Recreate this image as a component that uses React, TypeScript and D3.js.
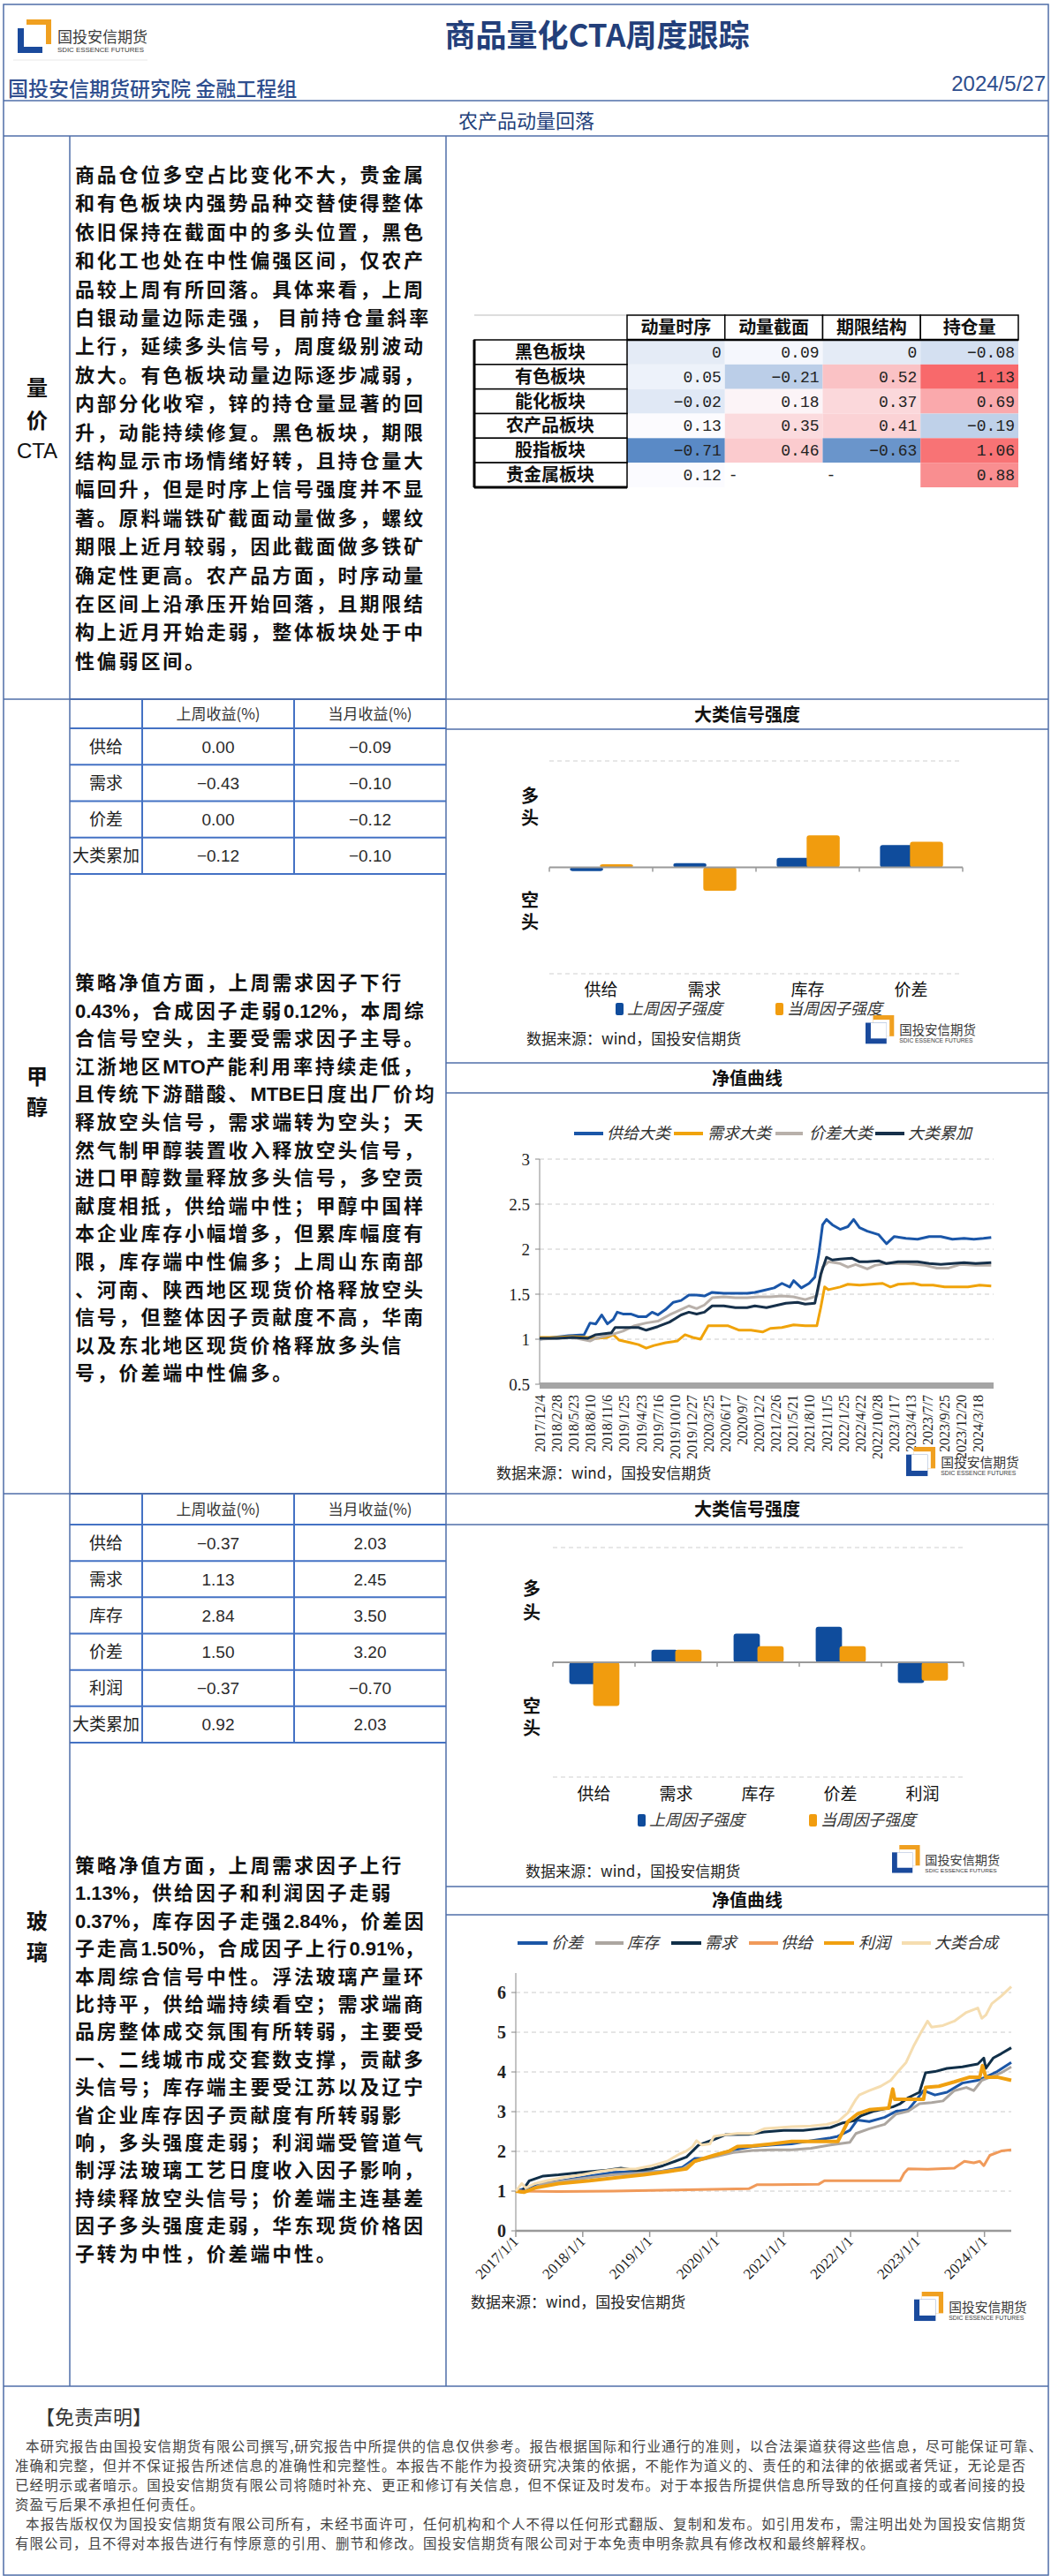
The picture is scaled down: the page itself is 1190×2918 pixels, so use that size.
import React from 'react';
import * as d3 from 'd3';

const CJK = '"Noto Sans CJK SC", "Noto Sans", sans-serif';
const SERIF = '"Liberation Serif", "DejaVu Serif", serif';
const SANS = '"Liberation Sans", Arial, sans-serif';
const MONO = '"Liberation Mono", "DejaVu Sans Mono", monospace';
const FRAME = '#4F6EA8';
const TBL = '#4472C4';

// ---------- Section 1: heat table ----------
const sectors = ['黑色板块', '有色板块', '能化板块', '农产品板块', '股指板块', '贵金属板块'];
const factorCols = ['动量时序', '动量截面', '期限结构', '持仓量'];
const momTS = [0, 0.05, -0.02, 0.13, -0.71, 0.12];
const momCS = [0.09, -0.21, 0.18, 0.35, 0.46, null];
const termStruct = [0, 0.52, 0.37, 0.41, -0.63, null];
const openInt = [-0.08, 1.13, 0.69, -0.19, 1.06, 0.88];

const ctaLines = [
  '商品仓位多空占比变化不大，贵金属',
  '和有色板块内强势品种交替使得整体',
  '依旧保持在截面中的多头位置，黑色',
  '和化工也处在中性偏强区间，仅农产',
  '品较上周有所回落。具体来看，上周',
  '白银动量边际走强， 目前持仓量斜率',
  '上行，延续多头信号，周度级别波动',
  '放大。有色板块动量边际逐步减弱，',
  '内部分化收窄，锌的持仓量显著的回',
  '升，动能持续修复。黑色板块，期限',
  '结构显示市场情绪好转，且持仓量大',
  '幅回升，但是时序上信号强度并不显',
  '著。原料端铁矿截面动量做多，螺纹',
  '期限上近月较弱，因此截面做多铁矿',
  '确定性更高。农产品方面，时序动量',
  '在区间上沿承压开始回落，且期限结',
  '构上近月开始走弱，整体板块处于中',
  '性偏弱区间。',
];

// ---------- Section 2: methanol ----------
const mFactors = ['供给', '需求', '价差', '大类累加'];
const mWeek = [0.0, -0.43, 0.0, -0.12];
const mMonth = [-0.09, -0.1, -0.12, -0.1];
const mBarCats = ['供给', '需求', '库存', '价差'];
const mPrevStrength = [-0.035, 0.04, 0.09, 0.21];
const mCurrStrength = [0.03, -0.22, 0.3, 0.24];
const mDateLabels = ['2017/12/4', '2018/2/28', '2018/5/23', '2018/8/10', '2018/11/6', '2019/1/25', '2019/4/23', '2019/7/16', '2019/10/10', '2019/12/27', '2020/3/25', '2020/6/17', '2020/9/7', '2020/12/2', '2021/2/26', '2021/5/21', '2021/8/10', '2021/11/5', '2022/1/25', '2022/4/22', '2022/10/28', '2023/1/17', '2023/4/13', '2023/7/7', '2023/9/25', '2023/12/20', '2024/3/18'];
const mYTicks = [0.5, 1, 1.5, 2, 2.5, 3];
const mSupply = [[0,1.00],[0.8,1.02],[1.72,1.04],[2.64,1.05],[2.99,1.18],[3.33,1.17],[3.68,1.27],[4.02,1.17],[4.37,1.22],[4.6,1.30],[4.94,1.28],[5.4,1.28],[5.86,1.25],[6.32,1.25],[6.67,1.30],[7.01,1.27],[7.47,1.33],[7.93,1.41],[8.39,1.43],[8.85,1.49],[9.31,1.49],[9.77,1.48],[10.23,1.52],[10.92,1.51],[11.61,1.51],[12.3,1.51],[12.76,1.52],[13.22,1.54],[13.91,1.57],[14.37,1.62],[14.83,1.58],[15.06,1.65],[15.52,1.57],[15.98,1.62],[16.32,1.69],[16.55,1.94],[16.78,2.27],[17.01,2.33],[17.36,2.27],[17.82,2.22],[18.28,2.25],[18.62,2.33],[18.97,2.24],[19.43,2.20],[20.11,2.16],[20.57,2.06],[21.03,2.14],[21.72,2.12],[22.41,2.11],[23.1,2.14],[23.79,2.14],[24.48,2.11],[25.17,2.12],[25.75,2.11],[26.32,2.12],[26.78,2.13]];
const mDemand = [[0,1.02],[1.03,1.02],[1.95,1.03],[2.87,1.02],[3.33,1.01],[4.02,1.02],[4.37,1.05],[4.71,0.99],[5.4,0.96],[5.86,0.94],[6.32,0.90],[6.78,0.93],[7.47,0.96],[8.16,0.98],[8.62,1.05],[9.08,1.02],[9.54,1.00],[10.0,1.15],[10.46,1.15],[11.15,1.15],[11.84,1.10],[12.53,1.10],[13.22,1.08],[13.68,1.12],[14.37,1.13],[15.06,1.16],[15.75,1.15],[16.44,1.15],[16.67,1.35],[16.9,1.58],[17.13,1.55],[17.82,1.58],[18.28,1.61],[18.97,1.60],[19.66,1.61],[20.34,1.62],[20.8,1.58],[21.26,1.61],[22.18,1.62],[22.64,1.60],[23.33,1.60],[24.02,1.58],[24.71,1.58],[25.4,1.58],[26.09,1.60],[26.78,1.59]];
const mSpread = [[0,1.00],[1.03,1.01],[1.95,1.02],[2.99,0.98],[3.33,1.01],[4.25,1.05],[4.94,1.09],[5.63,1.15],[6.32,1.18],[7.01,1.20],[7.7,1.27],[8.39,1.33],[8.85,1.37],[9.31,1.34],[9.77,1.38],[10.23,1.46],[10.92,1.47],[11.61,1.46],[12.3,1.46],[12.99,1.47],[13.68,1.47],[14.37,1.48],[15.06,1.47],[15.75,1.44],[16.44,1.48],[16.78,1.80],[17.13,1.86],[17.82,1.84],[18.28,1.80],[18.74,1.83],[19.43,1.78],[19.89,1.82],[20.57,1.84],[21.72,1.84],[22.87,1.82],[23.56,1.79],[24.25,1.79],[24.94,1.83],[25.86,1.82],[26.78,1.82]];
const mTotal = [[0,1.01],[1.03,1.01],[1.95,1.02],[2.87,1.01],[3.33,1.05],[4.25,1.07],[4.48,1.13],[5.17,1.13],[5.86,1.13],[6.32,1.10],[7.01,1.14],[7.7,1.19],[8.39,1.27],[8.85,1.30],[9.31,1.28],[9.77,1.30],[10.23,1.37],[10.92,1.37],[11.61,1.35],[12.3,1.35],[12.76,1.37],[13.45,1.35],[14.14,1.38],[14.6,1.40],[15.29,1.41],[15.75,1.39],[16.32,1.40],[16.67,1.72],[17.01,1.91],[17.36,1.88],[17.82,1.89],[18.51,1.90],[18.97,1.86],[19.43,1.86],[20.11,1.87],[20.57,1.84],[21.26,1.86],[22.41,1.86],[23.1,1.84],[23.79,1.83],[24.48,1.84],[25.17,1.85],[25.86,1.84],[26.78,1.85]];
const mSeriesNames = ['供给大类', '需求大类', '价差大类', '大类累加'];
const mSeriesColors = ['#1A56A8', '#F0A30A', '#B8B0AA', '#16304A'];

const methanolLines = [
  '策略净值方面，上周需求因子下行',
  '0.43%，合成因子走弱0.12%，本周综',
  '合信号空头，主要受需求因子主导。',
  '江浙地区MTO产能利用率持续走低，',
  '且传统下游醋酸、MTBE日度出厂价均',
  '释放空头信号，需求端转为空头；天',
  '然气制甲醇装置收入释放空头信号，',
  '进口甲醇数量释放多头信号，多空贡',
  '献度相抵，供给端中性；甲醇中国样',
  '本企业库存小幅增多，但累库幅度有',
  '限，库存端中性偏多；上周山东南部',
  '、河南、陕西地区现货价格释放空头',
  '信号，但整体因子贡献度不高，华南',
  '以及东北地区现货价格释放多头信',
  '号，价差端中性偏多。',
];

// ---------- Section 3: glass ----------
const gFactors = ['供给', '需求', '库存', '价差', '利润', '大类累加'];
const gWeek = [-0.37, 1.13, 2.84, 1.5, -0.37, 0.92];
const gMonth = [2.03, 2.45, 3.5, 3.2, -0.7, 2.03];
const gBarCats = ['供给', '需求', '库存', '价差', '利润'];
const gPrevStrength = [-0.19, 0.11, 0.25, 0.31, -0.18];
const gCurrStrength = [-0.38, 0.11, 0.14, 0.14, -0.16];
const gYearTicks = [2017, 2018, 2019, 2020, 2021, 2022, 2023, 2024];
const gYTicks = [0, 1, 2, 3, 4, 5, 6];
const gSpread = [[2017.00,1.00],[2017.17,1.08],[2017.41,1.19],[2017.75,1.28],[2018.10,1.38],[2018.45,1.47],[2018.80,1.49],[2019.15,1.49],[2019.49,1.60],[2019.67,1.82],[2019.84,1.82],[2020.02,1.93],[2020.25,2.04],[2020.54,2.12],[2020.83,2.16],[2021.12,2.19],[2021.41,2.27],[2021.70,2.34],[2021.81,2.38],[2021.99,2.53],[2022.10,2.79],[2022.28,2.75],[2022.51,2.86],[2022.68,3.01],[2022.86,3.05],[2022.97,3.27],[2023.09,3.53],[2023.26,3.42],[2023.44,3.49],[2023.67,3.72],[2023.90,3.79],[2024.02,3.87],[2024.19,4.01],[2024.40,4.24]];
const gStock = [[2017.00,1.00],[2017.17,1.00],[2017.41,1.19],[2017.75,1.26],[2018.10,1.34],[2018.45,1.41],[2018.80,1.45],[2019.15,1.49],[2019.49,1.56],[2019.67,1.75],[2019.96,1.86],[2020.25,1.97],[2020.54,2.02],[2020.83,2.04],[2021.12,2.04],[2021.41,2.08],[2021.70,2.16],[2021.99,2.23],[2022.08,2.45],[2022.28,2.57],[2022.51,2.68],[2022.68,2.94],[2022.86,3.01],[2023.03,3.20],[2023.21,3.23],[2023.38,3.27],[2023.55,3.53],[2023.73,3.61],[2023.84,3.53],[2023.96,3.79],[2024.13,3.90],[2024.25,3.98],[2024.40,4.13]];
const gDemand = [[2017.00,1.00],[2017.09,0.98],[2017.20,1.26],[2017.41,1.38],[2017.64,1.41],[2017.99,1.47],[2018.33,1.52],[2018.57,1.58],[2018.80,1.52],[2019.03,1.56],[2019.20,1.64],[2019.38,1.75],[2019.55,1.86],[2019.73,2.16],[2019.96,2.30],[2020.13,2.42],[2020.48,2.43],[2020.71,2.49],[2021.00,2.53],[2021.29,2.53],[2021.52,2.57],[2021.70,2.60],[2021.87,2.71],[2022.05,2.77],[2022.16,2.90],[2022.34,3.01],[2022.45,3.05],[2022.63,3.12],[2022.74,3.20],[2022.86,3.35],[2023.03,3.49],[2023.12,3.98],[2023.26,4.01],[2023.44,4.09],[2023.67,4.13],[2023.90,4.20],[2023.99,4.35],[2024.02,4.09],[2024.13,4.35],[2024.25,4.46],[2024.40,4.61]];
const gSupply = [[2017.00,1.00],[2017.64,0.99],[2018.45,1.00],[2019.38,1.03],[2020.48,1.06],[2020.60,1.16],[2020.83,1.16],[2021.52,1.17],[2021.61,1.26],[2022.28,1.26],[2022.74,1.26],[2022.80,1.45],[2022.86,1.56],[2023.15,1.55],[2023.55,1.58],[2023.70,1.75],[2023.84,1.71],[2023.93,1.75],[2023.99,1.64],[2024.08,1.90],[2024.25,2.01],[2024.40,2.04]];
const gProfit = [[2017.00,1.00],[2017.12,0.97],[2017.29,1.08],[2017.64,1.19],[2018.10,1.26],[2018.51,1.34],[2018.91,1.41],[2019.26,1.49],[2019.55,1.56],[2019.67,1.75],[2019.96,1.90],[2020.19,2.01],[2020.31,2.12],[2020.54,2.14],[2020.83,2.19],[2021.12,2.25],[2021.41,2.25],[2021.81,2.25],[2021.96,2.75],[2022.10,2.94],[2022.28,3.05],[2022.57,3.09],[2022.63,3.57],[2022.66,3.31],[2022.86,3.31],[2023.09,3.31],[2023.12,3.61],[2023.32,3.64],[2023.55,3.75],[2023.78,3.87],[2023.93,3.87],[2023.97,4.16],[2024.02,3.87],[2024.19,3.87],[2024.40,3.79]];
const gComposite = [[2017.00,1.00],[2017.09,1.19],[2017.15,1.08],[2017.29,1.19],[2017.46,1.26],[2017.70,1.34],[2017.99,1.41],[2018.22,1.49],[2018.51,1.55],[2018.80,1.56],[2019.03,1.64],[2019.26,1.75],[2019.44,1.93],[2019.55,2.01],[2019.64,2.12],[2019.70,2.27],[2019.78,2.16],[2019.90,2.19],[2019.96,2.38],[2020.13,2.42],[2020.31,2.45],[2020.54,2.45],[2020.71,2.57],[2020.94,2.60],[2021.12,2.62],[2021.41,2.64],[2021.64,2.68],[2021.81,2.75],[2021.96,2.97],[2022.08,3.31],[2022.13,3.42],[2022.28,3.53],[2022.45,3.64],[2022.60,3.79],[2022.71,4.01],[2022.83,4.24],[2022.95,4.68],[2023.06,5.02],[2023.15,5.28],[2023.21,5.13],[2023.38,5.17],[2023.55,5.28],[2023.73,5.50],[2023.90,5.61],[2023.96,5.35],[2024.02,5.43],[2024.11,5.72],[2024.25,5.91],[2024.40,6.15]];
const gSeriesNames = ['价差', '库存', '需求', '供给', '利润', '大类合成'];
const gSeriesColors = ['#1B56A6', '#ACA6A0', '#102F48', '#F09A5A', '#F0A010', '#F5DDB0'];

const glassLines = [
  '策略净值方面，上周需求因子上行',
  '1.13%，供给因子和利润因子走弱',
  '0.37%，库存因子走强2.84%，价差因',
  '子走高1.50%，合成因子上行0.91%，',
  '本周综合信号中性。浮法玻璃产量环',
  '比持平，供给端持续看空；需求端商',
  '品房整体成交氛围有所转弱，主要受',
  '一、二线城市成交套数支撑，贡献多',
  '头信号；库存端主要受江苏以及辽宁',
  '省企业库存因子贡献度有所转弱影',
  '响，多头强度走弱；利润端受管道气',
  '制浮法玻璃工艺日度收入因子影响，',
  '持续释放空头信号；价差端主连基差',
  '因子多头强度走弱，华东现货价格因',
  '子转为中性，价差端中性。',
];

const disclaimerLines = [
  '本研究报告由国投安信期货有限公司撰写,研究报告中所提供的信息仅供参考。报告根据国际和行业通行的准则，以合法渠道获得这些信息，尽可能保证可靠、',
  '准确和完整，但并不保证报告所述信息的准确性和完整性。本报告不能作为投资研究决策的依据，不能作为道义的、责任的和法律的依据或者凭证，无论是否',
  '已经明示或者暗示。国投安信期货有限公司将随时补充、更正和修订有关信息，但不保证及时发布。对于本报告所提供信息所导致的任何直接的或者间接的投',
  '资盈亏后果不承担任何责任。',
  '本报告版权仅为国投安信期货有限公司所有，未经书面许可，任何机构和个人不得以任何形式翻版、复制和发布。如引用发布，需注明出处为国投安信期货',
  '有限公司，且不得对本报告进行有悖原意的引用、删节和修改。国投安信期货有限公司对于本免责申明条款具有修改权和最终解释权。',
];

function Logo({ x, y, s }: { x: number; y: number; s: number }) {
  return (
    <g transform={`translate(${x},${y}) scale(${s})`}>
      <rect x={10} y={0} width={28} height={28} fill="#F0A020" />
      <rect x={10} y={6} width={22} height={22} fill="#fff" />
      <rect x={0} y={10} width={28} height={28} fill="#1A4A9C" />
      <rect x={7} y={10} width={21} height={21} fill="#fff" />
      <text x={45} y={26} fontSize={17} fill="#3A3A3A" fontFamily={CJK}>国投安信期货</text>
      <text x={45} y={37} fontSize={7.5} fill="#3A3A3A" fontFamily={SANS} textLength={98} lengthAdjust="spacingAndGlyphs">SDIC ESSENCE FUTURES</text>
    </g>
  );
}

function ReturnTable({ factors, week, month, top, headerBottom, bottom }: any) {
  const rows = d3.scaleBand<string>().domain(factors).range([headerBottom, bottom]);
  const colX = [79, 161, 333, 505];
  const fmt = d3.format('.2f');
  const hY = [top, headerBottom, ...factors.map((f: string) => (rows(f) as number) + rows.bandwidth())];
  return (
    <g>
      {hY.map((y, i) => (
        <line key={'h' + i} x1={79} x2={505} y1={y} y2={y} stroke={TBL} strokeWidth={2} />
      ))}
      {colX.slice(1, 3).map((x, i) => (
        <line key={'v' + i} x1={x} x2={x} y1={top} y2={bottom} stroke={TBL} strokeWidth={2} />
      ))}
      <text x={247} y={(top + headerBottom) / 2 + 6} textAnchor="middle" fontSize={17} fill="#333" fontFamily={CJK}>上周收益(%)</text>
      <text x={419} y={(top + headerBottom) / 2 + 6} textAnchor="middle" fontSize={17} fill="#333" fontFamily={CJK}>当月收益(%)</text>
      {factors.map((f: string, i: number) => {
        const cy = (rows(f) as number) + rows.bandwidth() / 2;
        return (
          <g key={f}>
            <text x={120} y={cy + 7} textAnchor="middle" fontSize={19} fill="#222" fontFamily={CJK}>{f}</text>
            <text x={247} y={cy + 7} textAnchor="middle" fontSize={19} fill="#2A2A2A" fontFamily={SANS}>{fmt(week[i])}</text>
            <text x={419} y={cy + 7} textAnchor="middle" fontSize={19} fill="#2A2A2A" fontFamily={SANS}>{fmt(month[i])}</text>
          </g>
        );
      })}
    </g>
  );
}

function BarChart(cfg: any) {
  const { cats, prev, curr, x0, x1, top, bottom, labelY, longX, longY, shortY, legendY, legendX, sourceX, sourceY, logo } = cfg;
  const xb = d3.scaleBand<string>().domain(cats).range([x0, x1]);
  const y = d3.scaleLinear().domain([-1, 1]).range([bottom, top]);
  const bw = xb.bandwidth();
  const bars = (vals: number[], off: number, color: string) =>
    vals.map((v, i) => {
      const bx = (xb(cats[i]) as number) + off * bw;
      const y0 = y(0);
      const yv = y(v);
      return <rect key={color + i} x={bx} y={Math.min(y0, yv)} width={bw * 0.32} height={Math.max(2, Math.abs(yv - y0))} rx={3} fill={color} />;
    });
  return (
    <g>
      <line x1={x0} x2={x1} y1={top} y2={top} stroke="#CFCFCF" strokeDasharray="5,4" />
      <line x1={x0} x2={x1} y1={bottom} y2={bottom} stroke="#CFCFCF" strokeDasharray="5,4" />
      {bars(prev, 0.2, '#0F4C9C')}
      {bars(curr, 0.49, '#F19C0E')}
      <line x1={x0} x2={x1} y1={y(0)} y2={y(0)} stroke="#9A9A9A" strokeWidth={2} />
      {[...cats.map((c: string) => xb(c) as number), x1].map((x: number, i: number) => (
        <line key={'t' + i} x1={x} x2={x} y1={y(0)} y2={y(0) + 5} stroke="#9A9A9A" strokeWidth={1.5} />
      ))}
      {cats.map((c: string) => (
        <text key={c} x={(xb(c) as number) + bw / 2} y={labelY} textAnchor="middle" fontSize={19} fill="#111" fontFamily={CJK}>{c}</text>
      ))}
      {['多', '头'].map((t, i) => (
        <text key={'l' + i} x={longX} y={longY[i] + 7} textAnchor="middle" fontSize={20} fontWeight={700} fill="#111" fontFamily={CJK}>{t}</text>
      ))}
      {['空', '头'].map((t, i) => (
        <text key={'s' + i} x={longX} y={shortY[i] + 7} textAnchor="middle" fontSize={20} fontWeight={700} fill="#111" fontFamily={CJK}>{t}</text>
      ))}
      <rect x={legendX[0] - 13} y={legendY - 7} width={9} height={14} rx={2} fill="#0F4C9C" />
      <text x={legendX[0]} y={legendY + 6} fontSize={18} fontStyle="italic" fill="#333" fontFamily={CJK}>上周因子强度</text>
      <rect x={legendX[1] - 13} y={legendY - 7} width={9} height={14} rx={2} fill="#F19C0E" />
      <text x={legendX[1]} y={legendY + 6} fontSize={18} fontStyle="italic" fill="#333" fontFamily={CJK}>当周因子强度</text>
      <text x={sourceX} y={sourceY} fontSize={17} fill="#222" fontFamily={CJK}>数据来源：wind，国投安信期货</text>
      <Logo x={logo[0]} y={logo[1]} s={logo[2]} />
    </g>
  );
}

function TextBlock({ lines, y0, lh }: { lines: string[]; y0: number; lh: number }) {
  return (
    <g>
      {lines.map((l, i) => {
        const runs = l.split(/([\x00-\x7F]+)/).filter((r) => r.length > 0);
        return (
          <text key={i} x={85} y={y0 + i * lh + 8} fontSize={22} fontWeight={700} fill="#111" fontFamily={CJK}>
            {runs.map((r, k) =>
              /^[\x00-\x7F]+$/.test(r) ? (
                <tspan key={k} fontFamily={SANS} letterSpacing={0}>{r}</tspan>
              ) : (
                <tspan key={k} letterSpacing={2.8}>{r}</tspan>
              )
            )}
          </text>
        );
      })}
    </g>
  );
}

export default function App() {
  const W = 1190;
  const H = 2918;

  // heat table
  const allVals = [...momTS, ...momCS, ...termStruct, ...openInt].filter((v) => v !== null) as number[];
  const heat = d3
    .scaleLinear<string>()
    .domain([d3.min(allVals) as number, d3.median(allVals) as number, d3.max(allVals) as number])
    .range(['#5A8AC6', '#FCFCFF', '#F8696B']);
  const colsData = [momTS, momCS, termStruct, openInt];
  const hx = d3.scaleBand<string>().domain(factorCols).range([710, 1153]);
  const hy = d3.scaleBand<string>().domain(sectors).range([385, 552]);
  const fmtH = (v: number) => (v === 0 ? '0' : d3.format('.2f')(v));

  // methanol line chart
  const mx = d3.scaleLinear().domain([0, 26.92]).range([611, 1125]);
  const my = d3.scaleLinear().domain([0.5, 3]).range([1568, 1313]);
  const mLine = d3.line<number[]>().x((d) => mx(d[0])).y((d) => my(d[1]));
  const mSeries = [mSupply, mDemand, mSpread, mTotal];
  const mLegend = [
    [650, 683, 687],
    [763, 796, 801],
    [878, 909, 916],
    [991, 1024, 1028],
  ];

  // glass line chart
  const gx = d3.scaleLinear().domain([2017, 2024.4]).range([584, 1145]);
  const gy = d3.scaleLinear().domain([0, 6.49]).range([2527, 2235]);
  const gLine = d3.line<number[]>().x((d) => gx(d[0])).y((d) => gy(d[1]));
  const gSeries = [gSpread, gStock, gDemand, gSupply, gProfit, gComposite];
  const gLegend = [
    [586, 620, 624],
    [674, 706, 710],
    [760, 794, 798],
    [848, 881, 884],
    [933, 967, 972],
    [1021, 1054, 1058],
  ];

  const justify: Record<number, [number, number]> = { 0: [29, 1151], 1: [17, 1144], 2: [17, 1144], 4: [29, 1132] };

  return (
    <svg width={W} height={H} xmlns="http://www.w3.org/2000/svg" style={{ position: 'absolute', left: 0, top: 0, display: 'block' }}>
      <rect x={0} y={0} width={W} height={H} fill="#fff" />

      {/* Header */}
      <Logo x={20} y={22} s={1} />
      <line x1={15} x2={167} y1={68} y2={68} stroke="#E8E8E8" />
      <text x={676} y={53} textAnchor="middle" fontSize={35} fontWeight={700} fill="#233F7A" fontFamily={CJK}>商品量化CTA周度跟踪</text>
      <text x={9} y={109} fontSize={23} fill="#2E4E8E" fontFamily={CJK} fontWeight={500}>国投安信期货研究院 金融工程组</text>
      <text x={1184} y={103} textAnchor="end" fontSize={24} fill="#2E4E8E" fontFamily={SANS}>2024/5/27</text>
      <text x={596} y={145} textAnchor="middle" fontSize={22} fill="#233F7A" fontFamily={CJK}>农产品动量回落</text>

      {/* Section labels */}
      <text x={42} y={448} textAnchor="middle" fontSize={24} fontWeight={700} fill="#111" fontFamily={CJK}>量</text>
      <text x={42} y={485} textAnchor="middle" fontSize={24} fontWeight={700} fill="#111" fontFamily={CJK}>价</text>
      <text x={42} y={519} textAnchor="middle" fontSize={24} fill="#111" fontFamily={SANS}>CTA</text>
      <text x={42} y={1228} textAnchor="middle" fontSize={24} fontWeight={700} fill="#111" fontFamily={CJK}>甲</text>
      <text x={42} y={1263} textAnchor="middle" fontSize={24} fontWeight={700} fill="#111" fontFamily={CJK}>醇</text>
      <text x={42} y={2185} textAnchor="middle" fontSize={24} fontWeight={700} fill="#111" fontFamily={CJK}>玻</text>
      <text x={42} y={2220} textAnchor="middle" fontSize={24} fontWeight={700} fill="#111" fontFamily={CJK}>璃</text>

      {/* Text blocks */}
      <TextBlock lines={ctaLines} y0={198} lh={32.4} />
      <TextBlock lines={methanolLines} y0={1113} lh={31.6} />
      <TextBlock lines={glassLines} y0={2113} lh={31.4} />

      {/* Heat table */}
      <g>
        {sectors.map((s) =>
          colsData.map((col, ci) => {
            const v = col[sectors.indexOf(s)];
            const cx = hx(factorCols[ci]) as number;
            const cy = hy(s) as number;
            return (
              <g key={s + ci}>
                <rect x={cx} y={cy} width={hx.bandwidth()} height={hy.bandwidth()} fill={v === null ? '#fff' : heat(v)} />
                {v === null ? (
                  <text x={cx + 4} y={cy + hy.bandwidth() / 2 + 6} fontSize={18} fill="#222" fontFamily={MONO}>-</text>
                ) : (
                  <text x={cx + hx.bandwidth() - 4} y={cy + hy.bandwidth() / 2 + 6} textAnchor="end" fontSize={18} fill="#222" fontFamily={MONO}>{fmtH(v)}</text>
                )}
              </g>
            );
          })
        )}
        <line x1={537} x2={710} y1={357} y2={357} stroke="#BBBBBB" />
        {factorCols.map((c) => (
          <g key={c}>
            <rect x={hx(c)} y={357} width={hx.bandwidth()} height={28} fill="#fff" stroke="#000" strokeWidth={1.5} />
            <text x={(hx(c) as number) + hx.bandwidth() / 2} y={378} textAnchor="middle" fontSize={20} fontWeight={700} fill="#111" fontFamily={CJK}>{c}</text>
          </g>
        ))}
        <line x1={710} x2={1153} y1={385} y2={385} stroke="#000" strokeWidth={2.5} />
        {sectors.map((s) => (
          <g key={s}>
            <rect x={537} y={hy(s)} width={173} height={hy.bandwidth()} fill="#fff" stroke="#000" strokeWidth={1.5} />
            <text x={623} y={(hy(s) as number) + hy.bandwidth() / 2 + 7} textAnchor="middle" fontSize={20} fontWeight={700} fill="#111" fontFamily={CJK}>{s}</text>
          </g>
        ))}
        <line x1={537} x2={537} y1={385} y2={552} stroke="#000" strokeWidth={3} />
        <line x1={537} x2={710} y1={552} y2={552} stroke="#000" strokeWidth={3} />
      </g>

      {/* Methanol */}
      <ReturnTable factors={mFactors} week={mWeek} month={mMonth} top={792} headerBottom={825} bottom={990} />
      <text x={846} y={817} textAnchor="middle" fontSize={20} fontWeight={700} fill="#111" fontFamily={CJK}>大类信号强度</text>
      <BarChart cats={mBarCats} prev={mPrevStrength} curr={mCurrStrength} x0={622} x1={1090} top={862} bottom={1103} labelY={1128}
        longX={600} longY={[902, 927]} shortY={[1020, 1045]} legendY={1143} legendX={[710, 891]} sourceX={596} sourceY={1183} logo={[980, 1150, 0.85]} />
      <text x={846} y={1229} textAnchor="middle" fontSize={20} fontWeight={700} fill="#111" fontFamily={CJK}>净值曲线</text>
      <g>
        {mSeriesNames.map((n, i) => (
          <g key={n}>
            <line x1={mLegend[i][0]} x2={mLegend[i][1]} y1={1284} y2={1284} stroke={mSeriesColors[i]} strokeWidth={4} />
            <text x={mLegend[i][2]} y={1290} fontSize={18} fontStyle="italic" fill="#333" fontFamily={CJK}>{n}</text>
          </g>
        ))}
        {mYTicks.map((t) => (
          <g key={t}>
            {t > 0.5 && <line x1={611} x2={1125} y1={my(t)} y2={my(t)} stroke="#CCCCCC" strokeDasharray="5,4" />}
            <line x1={606} x2={611} y1={my(t)} y2={my(t)} stroke="#888" />
            <text x={600} y={my(t) + 7} textAnchor="end" fontSize={19} fill="#222" fontFamily={SERIF}>{t}</text>
          </g>
        ))}
        <line x1={611} x2={611} y1={1313} y2={1568} stroke="#888" />
        {mSeries.map((s, i) => (
          <path key={i} d={mLine(s as any) as string} fill="none" stroke={mSeriesColors[i]} strokeWidth={3} strokeLinejoin="round" />
        ))}
        <rect x={611} y={1566} width={514} height={7} fill="#A5A5A5" />
        {mDateLabels.map((l, i) => (
          <text key={l} transform={`translate(${mx(i) + 6},1580) rotate(-90)`} textAnchor="end" fontSize={16} fill="#222" fontFamily={SERIF}>{l}</text>
        ))}
        <text x={562} y={1675} fontSize={17} fill="#222" fontFamily={CJK}>数据来源：wind，国投安信期货</text>
        <Logo x={1026} y={1639} s={0.87} />
      </g>

      {/* Glass */}
      <ReturnTable factors={gFactors} week={gWeek} month={gMonth} top={1692} headerBottom={1727} bottom={1974} />
      <text x={846} y={1717} textAnchor="middle" fontSize={20} fontWeight={700} fill="#111" fontFamily={CJK}>大类信号强度</text>
      <BarChart cats={gBarCats} prev={gPrevStrength} curr={gCurrStrength} x0={626} x1={1091} top={1753} bottom={2013} labelY={2039}
        longX={602} longY={[1800, 1827]} shortY={[1933, 1958]} legendY={2062} legendX={[735, 929]} sourceX={595} sourceY={2126} logo={[1010, 2090, 0.83]} />
      <text x={846} y={2160} textAnchor="middle" fontSize={20} fontWeight={700} fill="#111" fontFamily={CJK}>净值曲线</text>
      <g>
        {gSeriesNames.map((n, i) => (
          <g key={n}>
            <line x1={gLegend[i][0]} x2={gLegend[i][1]} y1={2201} y2={2201} stroke={gSeriesColors[i]} strokeWidth={4} />
            <text x={gLegend[i][2]} y={2207} fontSize={18} fontStyle="italic" fill="#333" fontFamily={CJK}>{n}</text>
          </g>
        ))}
        {gYTicks.map((t) => (
          <g key={t}>
            {t > 0 && <line x1={584} x2={1145} y1={gy(t)} y2={gy(t)} stroke="#CCCCCC" strokeDasharray="5,4" />}
            <line x1={579} x2={584} y1={gy(t)} y2={gy(t)} stroke="#888" />
            <text x={573} y={gy(t) + 7} textAnchor="end" fontSize={20} fontWeight={700} fill="#222" fontFamily={SERIF}>{t}</text>
          </g>
        ))}
        <line x1={584} x2={584} y1={2235} y2={2527} stroke="#888" />
        {gSeries.map((s, i) => (
          <path key={i} d={gLine(s as any) as string} fill="none" stroke={gSeriesColors[i]} strokeWidth={i === 4 ? 4 : 3} strokeLinejoin="round" />
        ))}
        <line x1={584} x2={1145} y1={2527} y2={2527} stroke="#999" strokeWidth={2.5} />
        {gYearTicks.map((yr) => (
          <g key={yr}>
            <line x1={gx(yr)} x2={gx(yr)} y1={2527} y2={2534} stroke="#999" strokeWidth={1.5} />
            <text transform={`translate(${gx(yr) + 4},2540) rotate(-45)`} textAnchor="end" fontSize={17} fill="#222" fontFamily={SERIF}>{`${yr}/1/1`}</text>
          </g>
        ))}
        <text x={533} y={2614} fontSize={17} fill="#222" fontFamily={CJK}>数据来源：wind，国投安信期货</text>
        <Logo x={1035} y={2596} s={0.87} />
      </g>

      {/* Disclaimer */}
      <text x={40} y={2746} fontSize={22} fill="#333" fontFamily={CJK}>【免责声明】</text>
      {disclaimerLines.map((l, i) => {
        const j = justify[i];
        const y = 2777 + i * 22;
        return j ? (
          <text key={i} x={j[0]} y={y} fontSize={15.5} fill="#444" fontFamily={CJK} textLength={j[1]} lengthAdjust="spacing">{l}</text>
        ) : (
          <text key={i} x={17} y={y} fontSize={15.5} letterSpacing={1} fill="#444" fontFamily={CJK}>{l}</text>
        );
      })}

      {/* Frame */}
      <g stroke={FRAME} strokeWidth={1.5} fill="none">
        <rect x={4} y={5} width={1183} height={2912} />
        <line x1={4} x2={1187} y1={114} y2={114} />
        <line x1={4} x2={1187} y1={154} y2={154} />
        <line x1={4} x2={1187} y1={792} y2={792} />
        <line x1={4} x2={1187} y1={1692} y2={1692} />
        <line x1={4} x2={1187} y1={2703} y2={2703} />
        <line x1={79} x2={79} y1={154} y2={2703} />
        <line x1={505} x2={505} y1={154} y2={2703} />
        <line x1={505} x2={1187} y1={826} y2={826} />
        <line x1={505} x2={1187} y1={1204} y2={1204} />
        <line x1={505} x2={1187} y1={1238} y2={1238} />
        <line x1={505} x2={1187} y1={1727} y2={1727} />
        <line x1={505} x2={1187} y1={2137} y2={2137} />
        <line x1={505} x2={1187} y1={2169} y2={2169} />
      </g>
    </svg>
  );
}
